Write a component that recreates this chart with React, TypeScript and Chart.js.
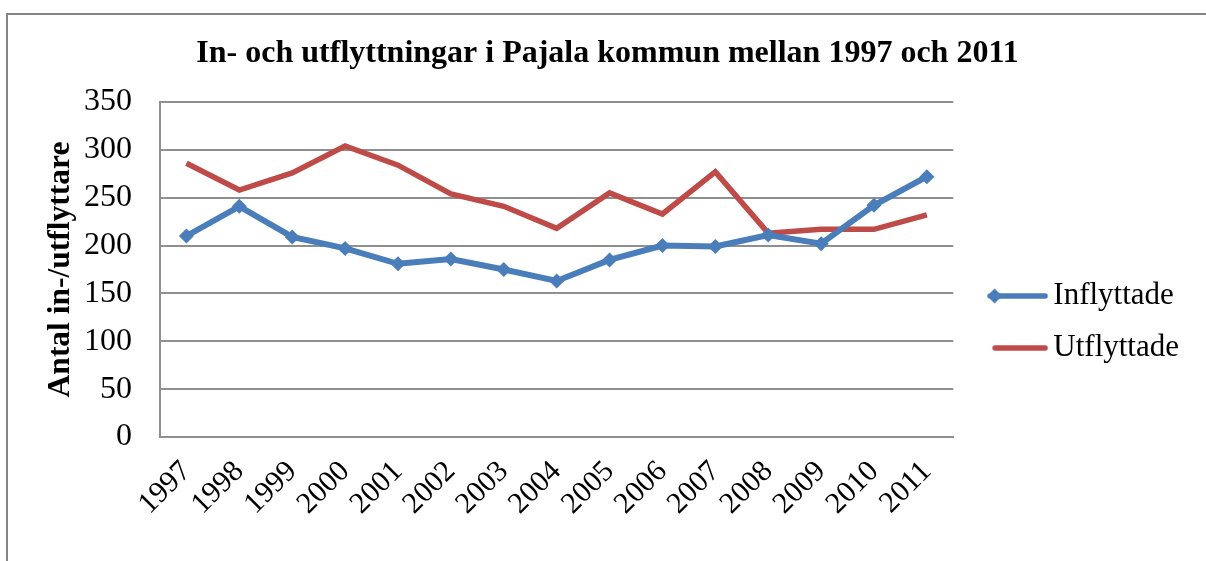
import React, { useEffect, useRef } from "react";
import { Chart, registerables } from "chart.js";

Chart.register(...registerables);

const years = ["1997", "1998", "1999", "2000", "2001", "2002", "2003", "2004", "2005", "2006", "2007", "2008", "2009", "2010", "2011"];
const inflyttade = [210, 241, 209, 197, 181, 186, 175, 163, 185, 200, 199, 211, 202, 242, 272];
const utflyttade = [286, 258, 276, 304, 284, 254, 241, 218, 255, 233, 277, 213, 217, 217, 232];
const yMin = 0;
const yMax = 350;
const yStep = 50;

const titleText = "In- och utflyttningar i Pajala kommun mellan 1997 och 2011";
const yTitleText = "Antal in-/utflyttare";
const seriesNames = ["Inflyttade", "Utflyttade"];

const BLUE = "#4A7EBB";
const RED = "#BE4B48";
const GRID = "#8f8f8f";
const SERIF = "'Liberation Serif', 'Times New Roman', serif";

const W = 1206;
const H = 644;
const PAD_L = 26;

function makeLegendImage(color: string, marker: boolean): HTMLCanvasElement {
  const c = document.createElement("canvas");
  c.width = 84;
  c.height = 20;
  const g = c.getContext("2d")!;
  g.strokeStyle = color;
  g.lineWidth = 5.5;
  g.lineCap = "round";
  g.beginPath();
  g.moveTo(marker ? 26 : 31, 10);
  g.lineTo(81, 10);
  g.stroke();
  if (marker) {
    g.fillStyle = color;
    g.beginPath();
    g.moveTo(23, 10);
    g.lineTo(30.5, 2.5);
    g.lineTo(38, 10);
    g.lineTo(30.5, 17.5);
    g.closePath();
    g.fill();
  }
  return c;
}

const framePlugin = {
  id: "frame",
  beforeDraw(chart: any) {
    const ctx = chart.ctx;
    ctx.save();
    ctx.strokeStyle = "#858585";
    ctx.lineWidth = 2;
    ctx.beginPath();
    ctx.moveTo(7, H);
    ctx.lineTo(7, 14);
    ctx.lineTo(W, 14);
    ctx.stroke();
    ctx.restore();
  },
};

export default function App() {
  const ref = useRef<HTMLCanvasElement>(null);

  useEffect(() => {
    if (!ref.current) return;
    const legendImages = [makeLegendImage(BLUE, true), makeLegendImage(RED, false)];
    const chart = new Chart(ref.current, {
      type: "line",
      data: {
        labels: years,
        datasets: [
          {
            label: seriesNames[0],
            data: inflyttade,
            borderColor: BLUE,
            backgroundColor: BLUE,
            borderWidth: 6,
            pointStyle: "rectRot",
            pointRadius: 7.5,
            pointBorderWidth: 0,
            pointBackgroundColor: BLUE,
            tension: 0,
          },
          {
            label: seriesNames[1],
            data: utflyttade,
            borderColor: RED,
            backgroundColor: RED,
            borderWidth: 5.5,
            pointRadius: 0,
            tension: 0,
          },
        ],
      },
      options: {
        responsive: false,
        animation: false,
        devicePixelRatio: 1,
        layout: { padding: { left: PAD_L, right: 17, top: 0, bottom: 0 } },
        plugins: {
          title: {
            display: true,
            text: titleText,
            color: "#000",
            font: { family: SERIF, size: 32, weight: "bold" },
            padding: { top: 35, bottom: 28.6 },
          },
          legend: {
            display: true,
            position: "right",
            labels: {
              color: "#000",
              font: { family: SERIF, size: 31 },
              padding: 21,
              usePointStyle: true,
              pointStyleWidth: 63.5,
              generateLabels: () =>
                seriesNames.map((name, i) => ({
                  text: name,
                  fillStyle: i === 0 ? BLUE : RED,
                  strokeStyle: i === 0 ? BLUE : RED,
                  lineWidth: 0,
                  pointStyle: legendImages[i],
                  hidden: false,
                  datasetIndex: i,
                  fontColor: "#000",
                  rotation: 0,
                })),
            },
          },
          tooltip: { enabled: false },
        },
        scales: {
          x: {
            offset: true,
            grid: { display: false, drawTicks: false },
            border: { display: true, color: GRID, width: 2 },
            ticks: {
              color: "#000",
              font: { family: SERIF, size: 30 },
              minRotation: 45,
              maxRotation: 45,
              autoSkip: false,
              padding: 17,
            },
            afterFit: (s: any) => {
              s.height = H - 437;
            },
          },
          y: {
            min: yMin,
            max: yMax,
            ticks: {
              stepSize: yStep,
              color: "#000",
              font: { family: SERIF, size: 32 },
              padding: 28,
            },
            grid: { color: GRID, lineWidth: 2, drawTicks: false },
            border: { display: true, color: GRID, width: 2 },
            title: {
              display: true,
              text: yTitleText,
              color: "#000",
              font: { family: SERIF, size: 31.5, weight: "bold" },
              padding: { top: 42 - PAD_L, bottom: 0 },
            },
            afterFit: (s: any) => {
              s.width = 160 - PAD_L;
            },
          },
        },
      },
      plugins: [framePlugin],
    } as any);
    return () => chart.destroy();
  }, []);

  return (
    <div style={{ position: "absolute", left: 0, top: 0, width: W, height: 561, overflow: "hidden", background: "#fff" }}>
      <canvas ref={ref} width={W} height={H} style={{ display: "block", width: W, height: H }} />
    </div>
  );
}
